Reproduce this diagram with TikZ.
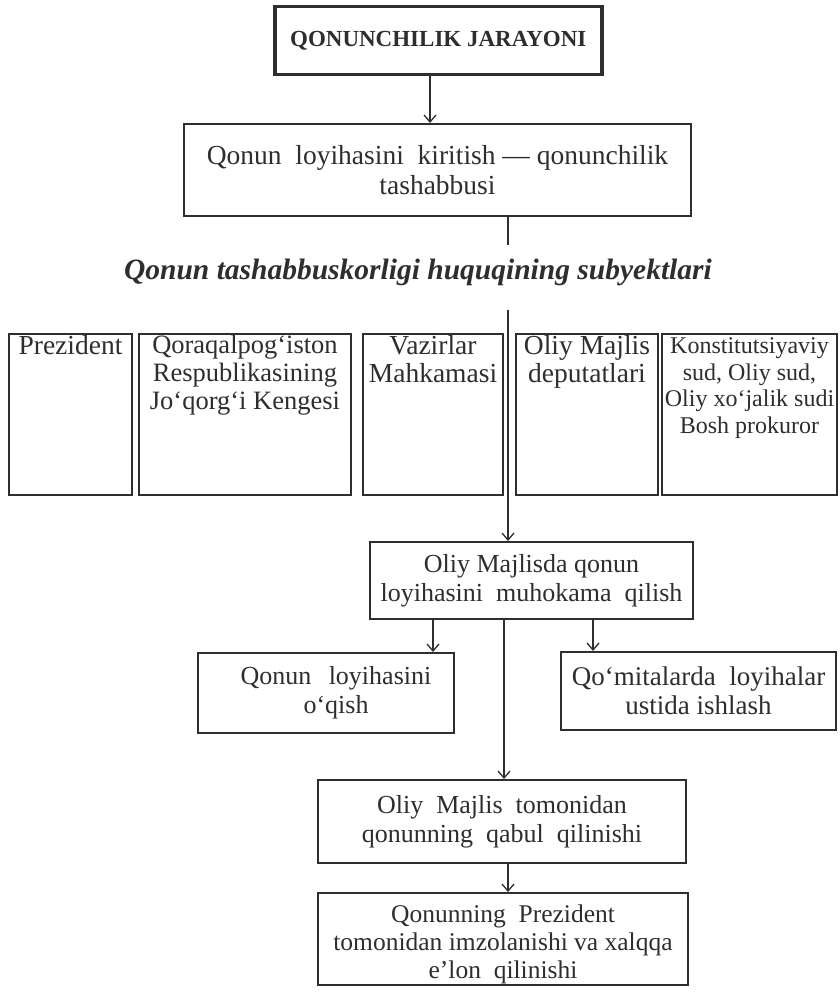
\documentclass[tikz,border=0pt]{standalone}
\usepackage{fontspec}
\setmainfont{Liberation Serif}
\usetikzlibrary{arrows.meta}
\definecolor{ink}{HTML}{2E2E2E}
\begin{document}
\begin{tikzpicture}[x=1pt,y=-1pt,
  every node/.style={text=ink},
  box/.style={draw=ink, line width=2pt, inner sep=0pt, anchor=north west, align=center,
    font=\fontsize{26}{29}\selectfont},
  titlebox/.style={box, line width=3.5pt, font=\bfseries\fontsize{23}{26}\selectfont},
  conn/.style={draw=ink, line width=1.3pt},
  arr/.style={conn, -{Straight Barb[length=7pt,width=12pt,line width=1.3pt]}},
  hd/.style={font=\bfseries\itshape\fontsize{29.5}{32}\selectfont, inner sep=0pt}
]
\useasboundingbox[fill=white] (0,0) rectangle (839,995);

\node[titlebox, minimum width=327pt, minimum height=68pt] (t) at (273,5) {QONUNCHILIK JARAYONI};
\node[box, minimum width=507pt, minimum height=92pt, font=\fontsize{27.5}{30}\selectfont] (b2) at (183,123)
  {Qonun\ \ loyihasini\ \ kiritish --- qonunchilik\\tashabbusi};
\node[hd] (h) at (418,272) {Qonun tashabbuskorligi huquqining subyektlari};

\node[box, minimum width=123pt, minimum height=161pt] (p) at (8,333)
  {\parbox[t][161pt][t]{123pt}{\centering\fontsize{27.5}{28}\selectfont\vspace{1pt}Prezident}};
\node[box, minimum width=212pt, minimum height=161pt] (q) at (138,333)
  {\parbox[t][161pt][t]{212pt}{\centering\fontsize{26.5}{28}\selectfont\vspace{1pt}Qoraqalpog‘iston\\Respublikasining\\Jo‘qorg‘i\ Kengesi}};
\node[box, minimum width=140pt, minimum height=161pt] (v) at (362,333)
  {\parbox[t][161pt][t]{140pt}{\centering\fontsize{27.5}{28}\selectfont\vspace{1pt}Vazirlar\\Mahkamasi}};
\node[box, minimum width=142pt, minimum height=161pt] (o) at (515,333)
  {\parbox[t][161pt][t]{142pt}{\centering\fontsize{27.5}{28}\selectfont\vspace{1pt}Oliy Majlis\\deputatlari}};
\node[box, minimum width=175pt, minimum height=161pt] (k) at (661,333)
  {\parbox[t][161pt][t]{175pt}{\centering\fontsize{24}{26.5}\selectfont\vspace*{4pt}Konstitutsiyaviy\\sud,\ Oliy\ sud,\\Oliy xo‘jalik sudi\\Bosh\ prokuror}};

\node[box, minimum width=323pt, minimum height=77pt] (m) at (369,541)
  {Oliy Majlisda qonun\\loyihasini\ \ muhokama\ \ qilish};
\node[box, minimum width=256pt, minimum height=80pt, text width=220pt] (r) at (197,652)
  {\hspace*{20pt}Qonun\ \ loyihasini\\\hspace*{20pt}o‘qish};
\node[box, minimum width=275pt, minimum height=78pt, font=\fontsize{27}{29}\selectfont] (c) at (560,651)
  {Qo‘mitalarda\ \ loyihalar\\ustida ishlash};
\node[box, minimum width=368pt, minimum height=83pt] (a) at (317,779)
  {Oliy\ \ Majlis\ \ tomonidan\\qonunning\ \ qabul\ \ qilinishi};
\node[box, minimum width=370pt, minimum height=92pt, font=\fontsize{25.5}{28}\selectfont] (e) at (317,892)
  {\parbox[c][92pt][c]{370pt}{\centering\vspace*{10pt}Qonunning\ \ Prezident\\tomonidan imzolanishi va xalqqa\\e’lon\ \ qilinishi}};

\coordinate (x1) at (430,0);
\coordinate (h2) at (508,245);
\coordinate (h3) at (508,310);
\coordinate (xr) at (433,0);
\coordinate (xc) at (593,0);
\coordinate (xa) at (504,0);
\coordinate (xe) at (508,0);

\draw[arr] (t.south -| x1) -- (b2.north -| x1);
\draw[conn] (b2.south -| h2) -- (h2);
\draw[arr] (h3) -- (m.north -| h3);
\draw[arr] (m.south -| xr) -- (r.north -| xr);
\draw[arr] (m.south -| xc) -- (c.north -| xc);
\draw[arr] (m.south -| xa) -- (a.north -| xa);
\draw[arr] (a.south -| xe) -- (e.north -| xe);
\end{tikzpicture}
\end{document}
